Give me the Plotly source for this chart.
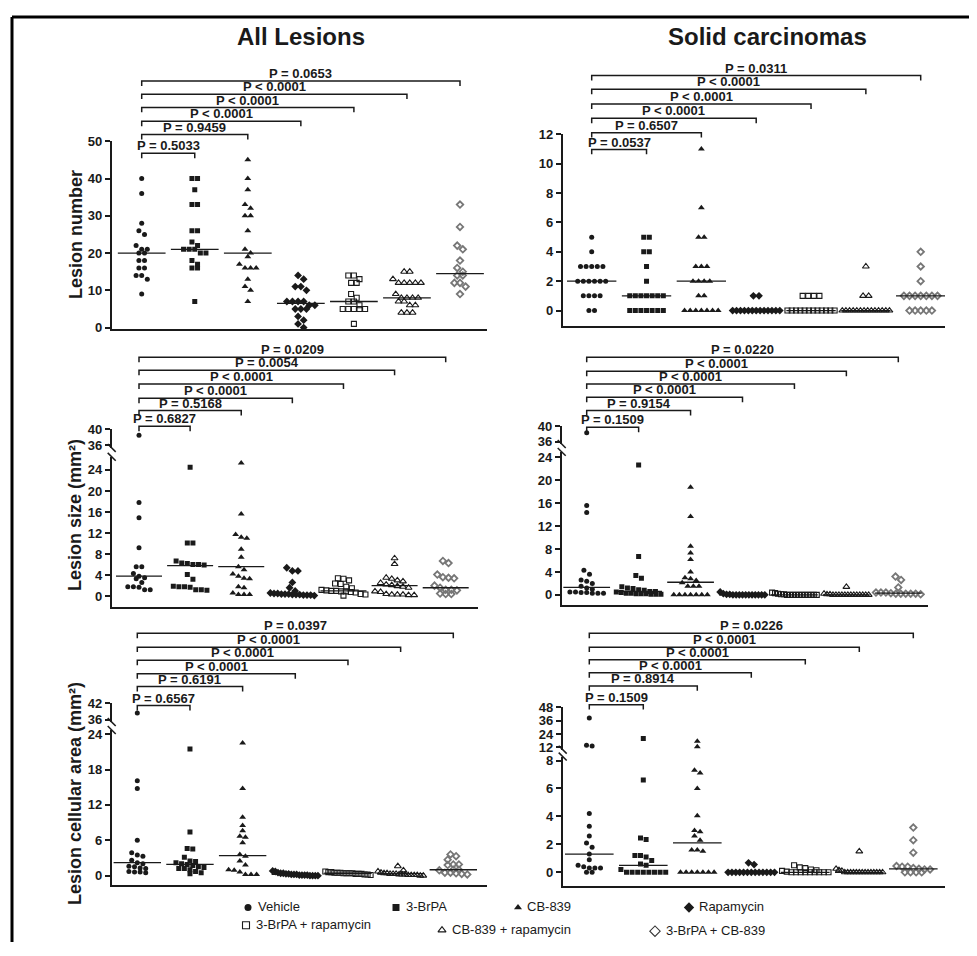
import plotly.graph_objects as go

W, H = 977, 956          # target picture size
OX, OY = 8, 8            # default page margin around the plot div
FW, FH = W - 2 * OX, H - 2 * OY

group_names = ["Vehicle", "3-BrPA", "CB-839", "Rapamycin",
               "3-BrPA + rapamycin", "CB-839 + rapamycin", "3-BrPA + CB-839"]

# ---------------- data ----------------
# All lesions - lesion number
all_number = [
    [40, 36, 28, 26, 25, 22, 21, 21, 20, 20, 18, 18, 16, 16, 14, 14, 13, 9],
    [40, 40, 37, 33, 33, 26, 26, 23, 22, 21, 21, 21, 20, 20, 18, 17, 16, 16, 7],
    [45, 40, 37, 33, 32, 30, 30, 26, 21, 20, 19, 17, 16, 16, 16, 13, 11, 10, 7],
    [14, 13, 11, 11, 10, 7, 7, 7, 7, 6, 6, 5, 5, 5, 3, 2, 1, 0],
    [14, 14, 13, 12, 12, 9, 8, 7, 7, 6, 5, 5, 5, 5, 5, 1],
    [15, 15, 13, 12, 12, 12, 12, 12, 9, 8, 8, 8, 8, 7, 7, 6, 6, 4, 4, 4],
    [33, 27, 22, 21, 18, 16, 15, 14, 14, 12, 12, 11, 9],
]
all_number_median = [20, 21, 20, 6.5, 7, 8, 14.5]
all_number_p = ["P = 0.5033", "P = 0.9459", "P < 0.0001", "P < 0.0001", "P < 0.0001", "P = 0.0653"]

# Solid carcinomas - lesion number
solid_number = [
    [5, 4, 3, 3, 3, 3, 3, 2, 2, 2, 2, 2, 2, 1, 1, 1, 1, 0, 0],
    [5, 5, 4, 4, 3, 2, 1, 1, 1, 1, 1, 1, 1, 0, 0, 0, 0, 0, 0, 0],
    [11, 7, 5, 5, 3, 3, 3, 2, 2, 2, 2, 1, 1, 0, 0, 0, 0, 0, 0, 0],
    [1, 1, 0, 0, 0, 0, 0, 0, 0, 0, 0, 0, 0, 0, 0],
    [1, 1, 1, 1, 0, 0, 0, 0, 0, 0, 0, 0, 0, 0, 0, 0],
    [3, 1, 1, 0, 0, 0, 0, 0, 0, 0, 0, 0, 0, 0, 0, 0, 0],
    [4, 3, 2, 1, 1, 1, 1, 1, 1, 1, 0, 0, 0, 0, 0],
]
solid_number_median = [2, 1, 2, 0, 0, 0, 1]
solid_number_p = ["P = 0.0537", "P = 0.6507", "P < 0.0001", "P < 0.0001", "P < 0.0001", "P = 0.0311"]

# All lesions - lesion size (mm2)
all_size = [
    [38.5, 17.8, 14.9, 9.2, 5.6, 5.6, 4.3, 3.8, 3.5, 3.3, 2.6, 1.8, 1.7, 1.8, 1.2, 1.2],
    [24.5, 10.1, 10.1, 6.7, 6.3, 6.2, 6.0, 6.0, 5.9, 4.1, 3.2, 1.9, 1.8, 1.7, 1.8, 1.2, 1.1, 1.2],
    [25.3, 15.6, 11.7, 11.2, 11.0, 8.9, 7.4, 5.6, 5.0, 4.2, 3.8, 3.4, 3.3, 1.8, 1.6, 0.6, 0.3, 0.3, 0.3],
    [5.4, 4.8, 4.8, 2.6, 1.6, 1.0, 0.6, 0.5, 0.5, 0.4, 0.4, 0.4, 0.3, 0.3, 0.3, 0.2, 0.2, 0.2, 0.1],
    [3.4, 3.3, 3.0, 2.4, 2.3, 1.8, 1.5, 1.2, 1.1, 1.0, 1.0, 0.9, 0.9, 0.8, 0.7, 0.4, 0.3, 0.1],
    [7.2, 6.1, 3.5, 3.3, 3.0, 2.8, 2.5, 2.2, 2.1, 1.9, 1.8, 1.6, 0.9, 0.8, 0.4, 0.3, 0.3, 0.3, 0.2, 0.2],
    [6.7, 6.3, 4.1, 3.6, 3.5, 3.4, 2.0, 1.6, 1.2, 1.1, 1.2, 0.5, 0.4, 0.4],
]
all_size_median = [3.8, 5.8, 5.6, 0.4, 1.0, 2.0, 1.6]
all_size_p = ["P = 0.6827", "P = 0.5168", "P < 0.0001", "P < 0.0001", "P = 0.0054", "P = 0.0209"]

# Solid carcinomas - lesion size (mm2)
solid_size = [
    [38.3, 15.6, 14.4, 4.3, 3.6, 2.6, 2.4, 2.0, 1.5, 1.2, 1.0, 0.5, 0.5, 0.4, 0.4, 0.3, 0.3, 0.3],
    [22.7, 6.7, 3.4, 2.9, 1.4, 1.2, 1.1, 0.9, 0.8, 0.6, 0.6, 0.5, 0.4, 0.3, 0.3, 0.2, 0.2, 0.2, 0.1, 0.1, 0.1],
    [18.8, 13.7, 8.5, 7.3, 6.2, 4.0, 3.0, 2.8, 2.5, 2.1, 1.5, 1.5, 1.5, 0, 0, 0, 0, 0, 0, 0],
    [0.5, 0.2, 0.1, 0.1, 0, 0, 0, 0, 0, 0, 0, 0, 0, 0, 0],
    [0.4, 0.3, 0.2, 0.1, 0.1, 0, 0, 0, 0, 0, 0, 0, 0, 0, 0, 0],
    [1.4, 0.2, 0.1, 0.1, 0, 0, 0, 0, 0, 0, 0, 0, 0, 0, 0, 0, 0],
    [3.2, 2.6, 1.3, 0.4, 0.4, 0.4, 0.3, 0.2, 0.2, 0.2, 0.2, 0.2, 0.1],
]
solid_size_median = [1.3, 0.6, 2.2, 0, 0, 0, 0.3]
solid_size_p = ["P = 0.1509", "P = 0.9154", "P < 0.0001", "P < 0.0001", "P < 0.0001", "P = 0.0220"]

# All lesions - lesion cellular area (mm2)
all_area = [
    [38.4, 16.1, 14.8, 6.0, 3.9, 3.5, 3.3, 2.6, 2.2, 2.0, 1.6, 1.5, 1.3, 1.2, 0.7, 0.6, 0.6, 0.5],
    [21.5, 7.4, 4.6, 4.5, 3.1, 2.5, 2.4, 2.2, 2.0, 1.9, 1.7, 1.5, 1.4, 1.2, 1.2, 1.0, 0.7, 0.5, 0.3],
    [22.5, 14.8, 9.9, 8.5, 7.6, 6.7, 6.5, 5.6, 3.6, 3.3, 2.5, 1.8, 1.0, 0.9, 0.6, 0.2, 0.2, 0.2],
    [0.8, 0.7, 0.5, 0.4, 0.4, 0.3, 0.3, 0.2, 0.2, 0.2, 0.1, 0.1, 0.1, 0.1, 0.0, 0.0, 0.0, 0.0],
    [0.7, 0.6, 0.6, 0.5, 0.5, 0.5, 0.4, 0.4, 0.4, 0.4, 0.3, 0.3, 0.3, 0.2, 0.2, 0.1],
    [1.6, 0.9, 0.7, 0.5, 0.4, 0.4, 0.3, 0.3, 0.3, 0.2, 0.2, 0.2, 0.1, 0.1, 0.1, 0.1, 0.0, 0.0],
    [3.6, 3.3, 2.7, 1.9, 1.9, 1.8, 1.0, 1.0, 0.9, 0.5, 0.5, 0.4, 0.3, 0.2],
]
all_area_median = [2.2, 1.9, 3.4, 0.2, 0.4, 0.35, 1.0]
all_area_p = ["P = 0.6567", "P = 0.6191", "P < 0.0001", "P < 0.0001", "P < 0.0001", "P = 0.0397"]

# Solid carcinomas - lesion cellular area (mm2)
solid_area = [
    [38.3, 14.0, 13.2, 4.2, 3.3, 2.6, 2.1, 1.8, 1.3, 0.9, 0.5, 0.4, 0.3, 0.3, 0.3, 0.0, 0.0],
    [20.0, 6.6, 2.45, 2.35, 1.2, 1.2, 1.1, 0.85, 0.6, 0.5, 0.2, 0, 0, 0, 0, 0, 0, 0, 0],
    [17.6, 12.6, 7.3, 7.1, 6.0, 4.05, 3.0, 2.9, 2.6, 2.3, 1.6, 1.6, 1.5, 0, 0, 0, 0, 0, 0, 0],
    [0.68, 0.55, 0, 0, 0, 0, 0, 0, 0, 0, 0, 0, 0, 0, 0],
    [0.5, 0.35, 0.3, 0.2, 0.15, 0.1, 0.05, 0, 0, 0, 0, 0, 0, 0, 0, 0],
    [1.5, 0.25, 0.15, 0.1, 0, 0, 0, 0, 0, 0, 0, 0, 0, 0, 0, 0, 0, 0],
    [3.2, 2.3, 1.4, 0.45, 0.4, 0.4, 0.3, 0.25, 0.2, 0.2, 0.0, 0.0, 0.0, 0.0],
]
solid_area_median = [1.3, 0.5, 2.1, 0, 0, 0, 0.25]
solid_area_p = ["P = 0.1509", "P = 0.8914", "P < 0.0001", "P < 0.0001", "P < 0.0001", "P = 0.0226"]

# ---------------- styling / layout ----------------
FONT = "Liberation Sans, Arial, sans-serif"
INK = "#1a1a1a"
symbols = ["circle", "square", "triangle-up", "diamond", "square-open", "triangle-up-open", "diamond-open"]
colors = [INK, INK, INK, INK, INK, INK, "#777777"]
sizes = [5, 5, 6, 6, 5, 6, 5]
lwidths = [0, 0, 0, 0, 1.1, 1.1, 1.8]

panels = [
    dict(data=all_number, med=all_number_median, pv=all_number_p,
         xl=111.7, xr=487, g1=141.7, g7=460,
         segs=[dict(top=136, bot=326.5, ra=(50, 136), rb=(0, 325), ticks=[0, 10, 20, 30, 40, 50])],
         brk=[148.3, 129.3, 115.7, 101.7, 88.3, 75]),
    dict(data=solid_number, med=solid_number_median, pv=solid_number_p,
         xl=562.7, xr=945, g1=591.7, g7=920.7,
         segs=[dict(top=129, bot=323, ra=(12, 129), rb=(0, 307.7), ticks=[0, 2, 4, 6, 8, 10, 12])],
         brk=[144.3, 127.3, 112.7, 98.3, 83.3, 69.3]),
    dict(data=all_size, med=all_size_median, pv=all_size_p,
         xl=111.7, xr=478, g1=139, g7=445.7,
         segs=[dict(top=456, bot=608.3, ra=(24, 469.3), rb=(0, 597.3), ticks=[0, 4, 8, 12, 16, 20, 24]),
               dict(top=428.3, bot=447, ra=(40, 428.3), rb=(36, 444), ticks=[36, 40])],
         brk=[425, 409, 396.7, 382.3, 368.3, 355]),
    dict(data=solid_size, med=solid_size_median, pv=solid_size_p,
         xl=561.7, xr=928, g1=586.7, g7=898.3,
         segs=[dict(top=451, bot=606.7, ra=(24, 456.7), rb=(0, 596), ticks=[0, 4, 8, 12, 16, 20, 24]),
               dict(top=425, bot=443, ra=(40, 425), rb=(36, 440.7), ticks=[36, 40])],
         brk=[426, 409, 395.7, 382.3, 369.3, 355]),
    dict(data=all_area, med=all_area_median, pv=all_area_p,
         xl=111.7, xr=487, g1=137.3, g7=453.3,
         segs=[dict(top=733, bot=890.7, ra=(24, 737.3), rb=(0, 880.7), ticks=[0, 6, 12, 18, 24]),
               dict(top=705.7, bot=725, ra=(42, 705.7), rb=(36, 722.7), ticks=[36, 42])],
         brk=[708.3, 689, 676, 662.3, 649, 635]),
    dict(data=solid_area, med=solid_area_median, pv=solid_area_p,
         xl=562.7, xr=945, g1=589.3, g7=913.3,
         segs=[dict(top=760, bot=891.7, ra=(8, 764), rb=(0, 877.3), ticks=[0, 2, 4, 6, 8]),
               dict(top=710, bot=753, ra=(48, 710), rb=(12, 750.7), ticks=[12, 24, 36, 48])],
         brk=[707.3, 688.3, 675, 661.7, 649, 635]),
]


def py(p):
    return 1 - (p - OY) / FH


def pxx(p):
    return (p - OX) / FW


def seg_range(s):
    (va, pa), (vb, pb) = s["ra"], s["rb"]
    scale = (pb - pa) / (va - vb)
    hi = va + (pa - s["top"]) / scale
    lo = vb - (s["bot"] - pb) / scale
    return lo, hi, scale


def swarm_offsets(pys, d, maxw):
    idx = sorted(range(len(pys)), key=lambda i: pys[i])
    offs = [0.0] * len(pys)
    clusters = []
    for i in idx:
        if clusters and abs(pys[i] - pys[clusters[-1][0]]) < d * 0.9:
            clusters[-1].append(i)
        else:
            clusters.append([i])
    for c in clusters:
        k = len(c)
        step = d if (k - 1) * d <= maxw else maxw / (k - 1)
        for j, i in enumerate(c):
            offs[i] = (j - (k - 1) / 2) * step
    return offs


fig = go.Figure()
layout = dict(width=FW, height=FH, margin=dict(l=0, r=0, t=0, b=0),
              plot_bgcolor="rgba(0,0,0,0)", paper_bgcolor="white", showlegend=False,
              font=dict(family=FONT, color=INK))
shapes, annotations = [], []
n = 0
for P in panels:
    spacing = (P["g7"] - P["g1"]) / 6.0
    xlo = 1 - (P["g1"] - P["xl"]) / spacing
    xhi = 7 + (P["xr"] - P["g7"]) / spacing
    segs = []
    for si, s in enumerate(P["segs"]):
        n += 1
        lo, hi, scale = seg_range(s)
        segs.append((n, lo, hi, scale, s))
        xa = dict(domain=[pxx(P["xl"]), pxx(P["xr"])], range=[xlo, xhi], anchor="y%d" % n,
                  showline=(si == 0), linecolor=INK, linewidth=1.6, ticks="", showticklabels=False,
                  showgrid=False, zeroline=False, fixedrange=True, visible=(si == 0))
        ya = dict(domain=[py(s["bot"]), py(s["top"])], range=[lo, hi], anchor="x%d" % n,
                  showline=True, linecolor=INK, linewidth=1.6, ticks="outside", ticklen=5,
                  tickwidth=1.6, tickcolor=INK, tickvals=s["ticks"],
                  tickfont=dict(family=FONT, size=13, color=INK, weight="bold"),
                  showgrid=False, zeroline=False, fixedrange=True)
        layout["xaxis%d" % n] = xa
        layout["yaxis%d" % n] = ya
    main_n = segs[0][0]
    lower_hi = segs[0][2]

    # points
    for g, vals in enumerate(P["data"]):
        pys = []
        for v in vals:
            sn, lo, hi, scale, s = segs[0] if (v <= lower_hi or len(segs) == 1) else segs[1]
            pys.append(s["top"] + (hi - v) * scale)
        offs = swarm_offsets(pys, 5.6, 0.86 * spacing)
        for k, (sn, lo, hi, scale, s) in enumerate(segs):
            xs, ys = [], []
            for v, o in zip(vals, offs):
                in_upper = len(segs) > 1 and v > lower_hi
                if (k == 1) == in_upper:
                    xs.append(g + 1 + o / spacing)
                    ys.append(v)
            if not xs:
                continue
            fig.add_trace(go.Scatter(
                x=xs, y=ys, mode="markers", xaxis="x%d" % sn, yaxis="y%d" % sn,
                name=group_names[g], hoverinfo="skip",
                marker=dict(symbol=symbols[g], size=sizes[g], color=colors[g],
                            line=dict(width=lwidths[g], color=colors[g]))))
        m = P["med"][g]
        fig.add_trace(go.Scatter(
            x=[g + 1 - 0.45, g + 1 + 0.45], y=[m, m], mode="lines",
            xaxis="x%d" % main_n, yaxis="y%d" % main_n, hoverinfo="skip",
            line=dict(color=INK, width=1.3)))

    # significance brackets
    for b, (ypx, label) in enumerate(zip(P["brk"], P["pv"])):
        x2 = b + 2
        shapes.append(dict(type="path", xref="x%d" % main_n, yref="paper",
                           path="M 1,%f L 1,%f L %d,%f L %d,%f" % (py(ypx + 5), py(ypx), x2, py(ypx), x2, py(ypx + 5)),
                           line=dict(color=INK, width=1.5)))
        annotations.append(dict(x=(1 + x2) / 2.0, y=py(ypx - 7.5), xref="x%d" % main_n, yref="paper",
                                text=label, showarrow=False, xanchor="center", yanchor="middle",
                                font=dict(family=FONT, size=13, color=INK, weight="bold")))

    # axis break marks
    if len(segs) > 1:
        ax = P["xl"]
        for ypx in (segs[1][4]["bot"], segs[0][4]["top"]):
            shapes.append(dict(type="line", xref="paper", yref="paper",
                               x0=pxx(ax - 4), y0=py(ypx - 4), x1=pxx(ax + 4), y1=py(ypx + 4),
                               line=dict(color=INK, width=1.5)))

# axis titles
for text, xp, yp in [("Lesion number", 76, 231),
                     ("Lesion size (mm²)", 75, 515),
                     ("Lesion cellular area (mm²)", 75, 798)]:
    annotations.append(dict(x=pxx(xp), y=py(yp), xref="paper", yref="paper", text=text,
                            textangle=-90, showarrow=False, xanchor="center", yanchor="middle",
                            font=dict(family=FONT, size=18, color=INK, weight="bold")))

# column titles
for text, xp in [("All Lesions", 301), ("Solid carcinomas", 767)]:
    annotations.append(dict(x=pxx(xp), y=py(30), xref="paper", yref="paper", text=text,
                            showarrow=False, xanchor="center", yanchor="middle",
                            font=dict(family=FONT, size=24, color=INK, weight="bold")))

# legend: key markers on an overlay pixel axis, labels as text
n += 1
layout["xaxis%d" % n] = dict(domain=[0, 1], range=[OX, OX + FW], visible=False, fixedrange=True, anchor="y%d" % n)
layout["yaxis%d" % n] = dict(domain=[0, 1], range=[OY + FH, OY], visible=False, fixedrange=True, anchor="x%d" % n)
legend_sym_x = [248, 396, 518, 689, 246, 442, 655]
legend_lab_x = [256, 404, 525, 697, 254, 450, 664]
legend_y = [913, 913, 913, 913, 931, 936, 937]
legend_sizes = [7, 7, 7, 8, 7, 7, 8]
for g in range(7):
    fig.add_trace(go.Scatter(
        x=[legend_sym_x[g]], y=[legend_y[g]], mode="markers", xaxis="x%d" % n, yaxis="y%d" % n,
        hoverinfo="skip", name=group_names[g],
        marker=dict(symbol=symbols[g], size=legend_sizes[g],
                    color=INK if g < 6 else "#333333",
                    line=dict(width=1.1 if g >= 4 else 0, color=INK if g < 6 else "#333333"))))
    annotations.append(dict(x=pxx(legend_lab_x[g]), y=py(legend_y[g] - 1), xref="paper", yref="paper",
                            text=group_names[g], showarrow=False, xanchor="left", yanchor="middle",
                            font=dict(family=FONT, size=13, color=INK)))

# frame (left and top edges)
shapes.append(dict(type="line", xref="paper", yref="paper", x0=pxx(12), y0=py(10), x1=pxx(12), y1=0,
                   line=dict(color="black", width=3)))
shapes.append(dict(type="line", xref="paper", yref="paper", x0=pxx(12), y0=py(10), x1=1, y1=py(10),
                   line=dict(color="black", width=3)))

layout["shapes"] = shapes
layout["annotations"] = annotations
fig.update_layout(**layout)
fig.write_html("out.html", config={"displayModeBar": False})
